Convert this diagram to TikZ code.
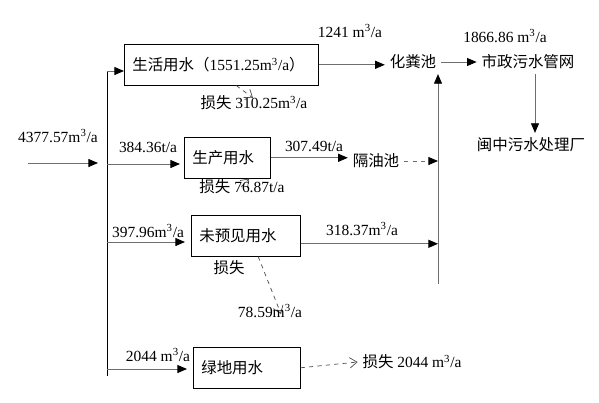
\documentclass[tikz,border=0pt]{standalone}
\usepackage{fontspec}
\setmainfont{Liberation Serif}
\newfontfamily\cjk{Noto Sans CJK SC}
\usepackage{tikz}
\usetikzlibrary{arrows.meta, positioning}
\definecolor{lineGray}{HTML}{6E6E6E}
\newcommand{\zh}[1]{{\cjk #1}}
\newcommand{\mcube}{m\textsuperscript{3}/a}

\begin{document}
\begin{tikzpicture}[x=0.025cm, y=-0.025cm, font=\fontsize{11}{13}\selectfont,
    box/.style={draw, anchor=north west, minimum height=1.025cm, inner xsep=0.2cm, align=left, text width=#1},
    flow/.style={draw=lineGray, line width=0.6pt, -{Triangle[length=2.4mm, width=2mm, color=black]}},
    loss/.style={draw=black!70, line width=0.5pt, dashed, -{Straight Barb[length=1.8mm, width=2.6mm]}}]
    \useasboundingbox (0,0) rectangle (599,402);
    % trunk with the four users
    \coordinate (src) at (28,163);
    \coordinate (tin) at (98,163);
    \coordinate (t1) at (107,71);
    \coordinate (t2) at (107,164);
    \coordinate (t3) at (107,242);
    \coordinate (t4) at (107,376);
    \coordinate (t4a) at (107,369);
    \node[box=4.45cm] (b1) at (124,44) {\zh{生活用水（}1551.25\mcube\zh{）}};
    \node[box=1.75cm] (b2) at (184,137) {\zh{生产用水}};
    \node[box=2.325cm] (b3) at (191,215) {\zh{未预见用水}};
    \node[box=2.275cm] (b4) at (193,347) {\zh{绿地用水}};
    % sinks
    \node (hf) at (413,62) {\zh{化粪池}};
    \node (sz) at (528,62) {\zh{市政污水管网}};
    \node (mz) at (531,145) {\zh{闽中污水处理厂}};
    \node (gy) at (376,161) {\zh{隔油池}};
    \node (lo4) at (412,362) {\zh{损失} 2044 \mcube};
    \coordinate (cbot) at (438,284);
    \coordinate (l1) at (253,98);
    \coordinate (l2) at (241,187);
    \coordinate (l3) at (281,314);

    \draw[flow] (src) -- (tin);
    \draw (t1) -- (t4);
    \draw[flow] (t1) -- (t1 -| b1.west);
    \draw[flow] (t2) -- ([xshift=-0.1cm]t2 -| b2.west);
    \draw[flow] (t3) -- ([xshift=-0.15cm]t3 -| b3.west);
    \draw[flow] (t4a) -- ([xshift=-0.15cm]t4a -| b4.west);
    \draw[flow] (b1.east) -- (b1.east -| hf.west);
    \draw[flow] (hf.east) -- (sz.west);
    \draw[flow] ([xshift=0.175cm]sz.south) -- ([xshift=0.175cm]sz.south |- mz.north);
    \draw[flow] (b2.east) -- (b2.east -| gy.west);
    \draw[flow, dashed] (gy.east) -- (gy.east -| cbot);
    \draw[flow] (cbot) -- (cbot |- hf.south);
    \draw[flow] ([yshift=-0.2cm]b3.east) -- ([yshift=-0.2cm]b3.east -| cbot);
    \draw[loss] (b4.east) -- (lo4.west);
    \draw[loss] ([xshift=0.375cm]b1.south) -- (l1);
    \draw[loss] (l2) -- ([xshift=0.55cm]b2.south);
    \draw[loss] ([xshift=0.31cm]b3.south) -- (l3);

    % labels
    \node at (58,136) {4377.57\mcube};
    \node at (350,31) {1241 \mcube};
    \node at (505,36) {1866.86 \mcube};
    \node at (148,147) {384.36t/a};
    \node at (314,146) {307.49t/a};
    \node at (148,231) {397.96\mcube};
    \node at (362,229) {318.37\mcube};
    \node at (158,355) {2044 \mcube};
    \node at (254,103) {\zh{损失} 310.25\mcube};
    \node at (242,187) {\zh{损失} 76.87t/a};
    \node at (229,268) {\zh{损失}};
    \node at (270,311) {78.59\mcube};
\end{tikzpicture}
\end{document}
